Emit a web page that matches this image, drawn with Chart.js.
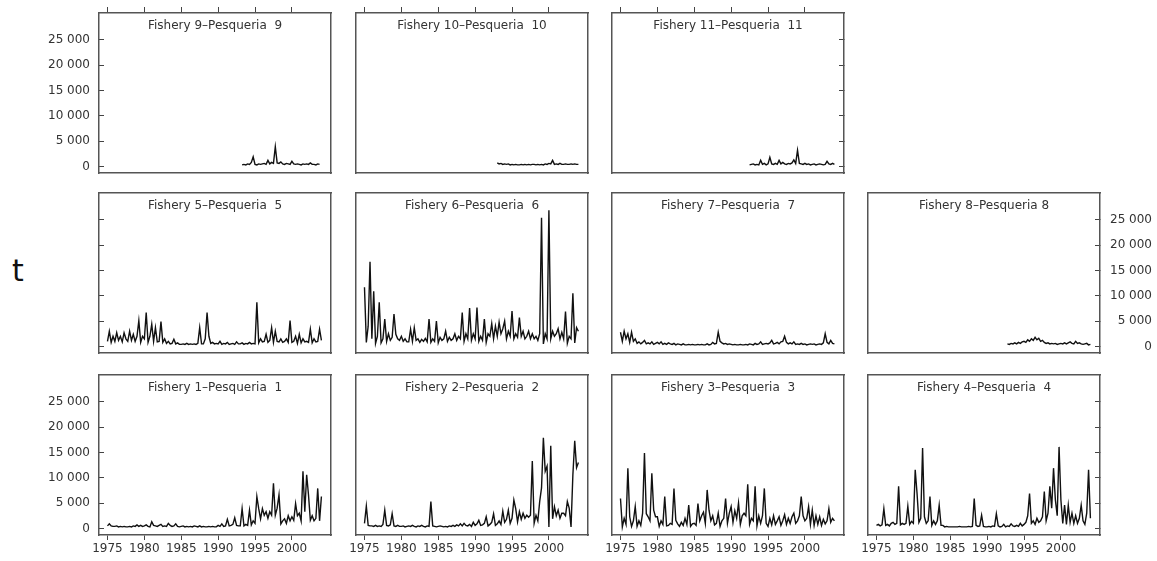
<!DOCTYPE html>
<html>
<head>
<meta charset="utf-8">
<script src="https://cdn.jsdelivr.net/npm/chart.js@4"></script>
<style>
  html, body { margin: 0; padding: 0; background: #fff; overflow: hidden; }
  #page { position: relative; width: 1157px; height: 561px; overflow: hidden; }
  .panel { position: absolute; }
  #tlabel { position: absolute; left: 12px; top: 256px; font: 30px/30px "DejaVu Sans", sans-serif; color: #111; }
</style>
</head>
<body>
<div id="page"><div id="tlabel">t</div></div>
<script>
/*=============== DATA ===============*/

// tick labels
const xTicks = [1975, 1980, 1985, 1990, 1995, 2000];
const yTicks = [0, 5000, 10000, 15000, 20000, 25000];

const titles = [
  "Fishery 1–Pesqueria  1", "Fishery 2–Pesqueria  2", "Fishery 3–Pesqueria  3",
  "Fishery 4–Pesqueria  4", "Fishery 5–Pesqueria  5", "Fishery 6–Pesqueria  6",
  "Fishery 7–Pesqueria  7", "Fishery 8–Pesqueria 8", "Fishery 9–Pesqueria  9",
  "Fishery 10–Pesqueria  10", "Fishery 11–Pesqueria  11",
];

// first quarter of each series (values are quarterly catches, t)
const startYears = [1975, 1975, 1975, 1975, 1975, 1975, 1975, 1992.75, 1993.25, 1993, 1992.5];

const fishery1 = [
  500, 900, 500, 400,  400, 500, 300, 400,  300, 400, 300, 300,  400, 300, 500, 400,
  700, 400, 600, 400,  500, 700, 400, 300,  1300, 600, 500, 400,  600, 800, 400, 500,
  400, 1000, 600, 400,  500, 900, 400, 300,  400, 500, 300, 400,  300, 400, 300, 500,
  400, 300, 500, 300,  400, 300, 300, 400,  300, 400, 300, 300,  600, 400, 900, 400,
  500, 1800, 500, 600,  800, 2100, 600, 500,  500, 3900, 500, 800,  600, 3600, 700, 1500,
  1000, 6300, 3900, 1900,  3900, 2600, 3300, 2000,  3300, 2600, 8900, 2600,  4000, 6600, 900, 1500,
  1900, 1000, 2500, 1500,  2300, 1600, 4900, 2500,  3000, 1500, 11300, 3300,  10600, 6600, 1600, 2500,
  1500, 2000, 7900, 1500,  6300,
];
const fishery2 = [
  1000, 4400, 600, 500,  500, 400, 600, 400,  500, 400, 800, 3600,  600, 500, 700, 2900,
  500, 400, 600, 400,  400, 500, 300, 400,  500, 400, 600, 400,  300, 500, 400, 600,
  400, 300, 500, 400,  5300, 500, 400, 300,  400, 500, 400, 300,  400, 300, 500, 400,
  600, 400, 700, 500,  900, 500, 1000, 600,  500, 800, 400, 1200,  600, 900, 1600, 600,
  700, 1000, 2300, 500,  800, 1200, 2900, 600,  900, 1500, 800, 3400,  1200, 1800, 3600, 1000,
  2000, 5600, 3900, 1300,  3300, 1800, 3000, 2000,  2600, 2200, 2600, 13300,  1000, 2600, 1500, 5300,
  8000, 17900, 11300, 12300,  300, 16300, 1900, 4300,  2500, 3600, 2000, 3000,  3000, 2500, 5300, 4000,
  300, 10600, 17300, 12000,  13000,
];
const fishery3 = [
  5900, 300, 2000, 800,  11900, 2300, 400, 1500,  4300, 400, 1500, 600,  3000, 14900, 2900, 2300,
  1500, 10900, 3600, 2300,  2300, 400, 1500, 800,  6300, 500, 600, 1000,  800, 7900, 1600, 900,
  400, 1200, 600, 2000,  800, 4600, 400, 900,  1000, 600, 4900, 1500,  2500, 3200, 1000, 7600,
  3600, 1500, 2500, 700,  1000, 3000, 400, 1500,  2000, 5900, 1000, 3000,  4300, 1200, 3500, 2000,
  5000, 800, 2500, 3000,  2500, 8700, 800, 2000,  1500, 8300, 500, 2500,  1000, 2500, 7900, 1000,
  400, 2000, 700, 2500,  800, 1500, 2300, 600,  1500, 2700, 800, 2000,  1000, 2300, 3000, 1000,
  1500, 2500, 6300, 2500,  1500, 2000, 4300, 800,  3600, 600, 2500, 800,  2300, 600, 1800, 900,
  1500, 3900, 1200, 2000,  1500,
];
const fishery4 = [
  600, 800, 500, 700,  3900, 600, 800, 500,  1000, 1200, 800, 1000,  8300, 700, 1000, 800,
  1000, 4400, 800, 1400,  1000, 11600, 6900, 1200,  2000, 15900, 2300, 1000,  1500, 6300, 600, 1500,
  800, 1500, 4600, 600,  600, 300, 400, 300,  300, 300, 300, 300,  300, 400, 300, 300,
  300, 300, 400, 300,  400, 5900, 600, 400,  500, 2600, 400, 300,  300, 400, 300, 500,
  400, 2900, 500, 300,  400, 800, 300, 500,  400, 900, 500, 400,  600, 400, 1000, 500,
  800, 1200, 2500, 6900,  1000, 1500, 800, 2000,  1200, 1500, 2300, 7300,  1500, 3000, 8300, 4000,
  11900, 5600, 2500, 16100,  5600, 1000, 4600, 800,  4600, 1200, 3000, 1000,  2500, 1000, 2000, 4600,
  1500, 800, 3000, 11600,  2000,
];
const fishery5 = [
  1000, 3000, 800, 2000,  1000, 2700, 1200, 2000,  900, 2700, 1500, 1000,  3000, 1200, 2400, 1000,
  2000, 5100, 800, 2000,  1500, 6700, 800, 2000,  4400, 1000, 3700, 900,  1000, 4900, 800, 1500,
  600, 1000, 500, 600,  1400, 500, 700, 400,  400, 500, 400, 600,  400, 500, 400, 500,
  400, 600, 3700, 500,  500, 1500, 6700, 2000,  600, 800, 500, 600,  500, 1000, 400, 600,
  500, 800, 400, 500,  600, 400, 900, 500,  500, 700, 400, 600,  500, 800, 500, 600,
  500, 8700, 700, 1500,  900, 1000, 2400, 800,  1200, 3700, 800, 3000,  1000, 900, 1500, 800,
  1000, 1500, 800, 5100,  800, 1000, 2000, 600,  2400, 700, 1500, 900,  1000, 800, 3400, 700,
  1500, 900, 1000, 3400,  1200,
];
const fishery6 = [
  11700, 800, 4000, 16700,  1500, 10900, 600, 2000,  8700, 700, 1500, 5400,  1000, 2500, 1200, 1800,
  6400, 2400, 1500, 1200,  2000, 1000, 1500, 900,  900, 3400, 1000, 3700,  1200, 1500, 800, 1400,
  1000, 1600, 900, 5400,  800, 1500, 1000, 5000,  700, 1800, 1200, 1500,  3000, 1000, 1800, 1200,
  1500, 2500, 1200, 2000,  1500, 6700, 1000, 2500,  1500, 7600, 1200, 2500,  1500, 7700, 1000, 2000,
  1200, 5400, 800, 2500,  2000, 4500, 1500, 4000,  2000, 4800, 2500, 3500,  5000, 1500, 3000, 2000,
  7000, 1500, 2500, 1800,  5700, 2000, 3000, 1500,  2000, 3000, 1500, 2500,  1500, 2000, 1200, 2500,
  25400, 500, 2500, 1500,  26900, 1500, 3000, 2000,  2500, 3500, 1500, 2800,  1500, 6900, 600, 2000,
  1500, 10500, 700, 3700,  3000,
];
const fishery7 = [
  2800, 1000, 3000, 1500,  2500, 800, 2800, 1000,  1500, 600, 900, 500,  800, 1200, 500, 700,
  500, 900, 400, 600,  800, 500, 900, 400,  600, 400, 700, 500,  400, 600, 300, 500,
  400, 300, 500, 300,  300, 400, 300, 400,  300, 300, 400, 300,  400, 300, 300, 500,
  300, 400, 800, 500,  600, 2800, 1000, 700,  500, 600, 400, 500,  400, 300, 400, 300,
  300, 400, 300, 300,  400, 300, 500, 400,  300, 600, 400, 500,  900, 400, 500, 600,
  500, 700, 1200, 500,  600, 800, 500, 900,  1000, 2000, 800, 500,  700, 500, 900, 400,
  500, 400, 600, 400,  500, 300, 400, 500,  400, 500, 300, 400,  500, 400, 700, 2500,
  800, 500, 1200, 600,  500,
];
const fishery8 = [
  500,  400, 600, 500, 700,  500, 800, 600, 900,  1000, 800, 1300, 1000,  1500, 1200, 1800, 1300,
  1600, 1000, 1200, 800,  600, 700, 500, 600,  500, 600, 400, 500,  600, 500, 700, 500,
  700, 900, 600, 500,  1000, 600, 700, 500,  400, 500, 600, 300,  400,
];
const fishery9 = [
  300, 400, 300,  500, 400, 800, 1900,  400, 300, 500, 400,  500, 600, 400, 1200,
  500, 800, 600, 3900,  700, 600, 900, 500,  400, 600, 500, 400,  1000, 500, 400, 500,
  400, 300, 500, 400,  500, 400, 700, 400,  400, 300, 500, 400,
];
const fishery10 = [
  700, 500, 600, 400,  500, 400, 500, 300,  400, 300, 400, 300,  300, 400, 300, 400,
  300, 400, 300, 400,  400, 300, 400, 300,  400, 300, 500, 400,  600, 500, 1200, 400,
  500, 400, 600, 400,  400, 500, 400, 400,  500, 400, 500, 400,  400,
];
const fishery11 = [
  300, 400,  500, 300, 400, 300,  1200, 400, 600, 300,  500, 1800, 500, 400,  600, 400, 1200, 500,
  800, 500, 400, 600,  500, 700, 1300, 600,  3200, 600, 500, 400,  600, 400, 500, 300,
  400, 500, 300, 400,  500, 400, 300, 400,  1000, 500, 400, 600,  400,
];

const series = [fishery1, fishery2, fishery3, fishery4, fishery5, fishery6,
                fishery7, fishery8, fishery9, fishery10, fishery11];

/*=============== LAYOUT ===============*/

const colX = [99, 356, 612, 868];
const rowY = [13, 193, 375];
const BOX_W = 232, BOX_H = 160;
// fixed axis sizes so every panel's plot box lands on the same grid
const LEFT_W = 70, RIGHT_W = 52, RIGHT_PAD = 18, TOP_H = 24, BOTTOM_H = 30;

// which fishery goes where, and which sides carry ticks / labels
const panels = [
  { n: 9,  row: 0, col: 0, x: "top",    y: "left",  yLabels: true },
  { n: 10, row: 0, col: 1, x: "top",    y: null },
  { n: 11, row: 0, col: 2, x: "top",    y: "right", yLabels: false },
  { n: 5,  row: 1, col: 0, x: null,     y: "left",  yLabels: false },
  { n: 6,  row: 1, col: 1, x: null,     y: null },
  { n: 7,  row: 1, col: 2, x: null,     y: null },
  { n: 8,  row: 1, col: 3, x: null,     y: "right", yLabels: true },
  { n: 1,  row: 2, col: 0, x: "bottom", y: "left",  yLabels: true },
  { n: 2,  row: 2, col: 1, x: "bottom", y: null },
  { n: 3,  row: 2, col: 2, x: "bottom", y: null },
  { n: 4,  row: 2, col: 3, x: "bottom", y: "right", yLabels: false },
];

Chart.defaults.font.family = '"DejaVu Sans", sans-serif';
Chart.defaults.font.size = 12;
Chart.defaults.color = "#333";

const fmt = (v) => String(v).replace(/\B(?=(\d{3})+(?!\d))/g, " ");

function axis(kind, position, size, showTicks, showLabels) {
  const isX = kind === "x";
  return {
    type: "linear",
    position: position,
    min: isX ? 1973.85 : -1300,
    max: isX ? 2005.3 : 30300,
    afterBuildTicks: (s) => { s.ticks = (isX ? xTicks : yTicks).map((v) => ({ value: v })); },
    afterFit: (s) => { if (isX) s.height = size; else s.width = size; },
    border: { display: true, color: "#555", width: 1.5 },
    grid: {
      display: showTicks,
      drawOnChartArea: false,
      drawTicks: true,
      tickLength: isX ? (position === "top" ? 6 : 5) : -5, // y ticks point inwards
      color: "#444",
    },
    ticks: {
      display: showLabels,
      autoSkip: false,
      maxRotation: 0,
      padding: isX ? 2 : 14,
      crossAlign: position === "right" ? "far" : "near",
      callback: (v) => (isX ? String(v) : fmt(v)),
    },
  };
}

const panelTitle = {
  id: "panelTitle",
  afterDraw(chart, args, opts) {
    const { ctx, chartArea } = chart;
    ctx.save();
    ctx.font = '12px "DejaVu Sans", sans-serif';
    ctx.fillStyle = "#333";
    ctx.textAlign = "center";
    ctx.textBaseline = "middle";
    ctx.fillText(opts.text, (chartArea.left + chartArea.right) / 2, chartArea.top + 13);
    ctx.restore();
  },
};

const page = document.getElementById("page");

panels.forEach((p) => {
  const div = document.createElement("div");
  div.className = "panel";
  div.style.left = colX[p.col] - LEFT_W + "px";
  div.style.top = rowY[p.row] - TOP_H + "px";
  const canvas = document.createElement("canvas");
  canvas.width = LEFT_W + BOX_W + RIGHT_W + RIGHT_PAD;
  canvas.height = TOP_H + BOX_H + BOTTOM_H;
  div.appendChild(canvas);
  page.appendChild(div);

  const values = series[p.n - 1];
  const start = startYears[p.n - 1];
  const points = values.map((v, i) => ({ x: start + i * 0.25, y: v }));

  new Chart(canvas.getContext("2d"), {
    type: "line",
    data: {
      datasets: [{
        data: points,
        borderColor: "#111",
        borderWidth: 1.4,
        pointRadius: 0,
        tension: 0,
        xAxisID: "x",
        yAxisID: "y",
      }],
    },
    options: {
      responsive: false,
      animation: false,
      layout: { padding: { left: 0, right: RIGHT_PAD, top: 0, bottom: 0 } },
      scales: {
        x: axis("x", "bottom", BOTTOM_H, p.x === "bottom", p.x === "bottom"),
        x2: axis("x", "top", TOP_H, p.x === "top", false),
        y: axis("y", "left", LEFT_W, p.y === "left", p.y === "left" && p.yLabels),
        y2: axis("y", "right", RIGHT_W, p.y === "right", p.y === "right" && p.yLabels),
      },
      plugins: {
        legend: { display: false },
        tooltip: { enabled: false },
        panelTitle: { text: titles[p.n - 1] },
      },
    },
    plugins: [panelTitle],
  });
});
</script>
</body>
</html>
